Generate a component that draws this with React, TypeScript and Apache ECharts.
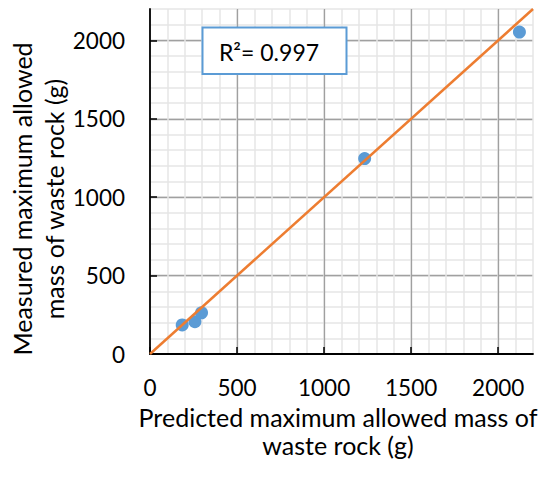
import React, { useEffect, useRef } from "react";
import * as echarts from "echarts";

const predicted = [185, 258, 296, 1233, 2122];
const measured = [185, 206, 263, 1246, 2053];
const fitLineX = [0, 2200];
const fitLineY = [0, 2200];
const xTitle = "Predicted maximum allowed mass of\nwaste rock (g)";
const yTitle = "Measured maximum allowed\nmass of waste rock (g)";
const r2Label = "R²= 0.997";

const FONT = "Lato, 'Open Sans', sans-serif";

export default function App() {
  const ref = useRef<HTMLDivElement>(null);
  useEffect(() => {
    document.body.style.margin = "0";
    if (!ref.current) return;
    const chart = echarts.init(ref.current, null, { renderer: "svg" });
    const minorAxis = (pos: string) => ({
      type: "value",
      position: pos,
      min: 0,
      max: 2200,
      interval: 100,
      axisLine: { show: false },
      axisTick: { show: false },
      axisLabel: { show: false },
      splitLine: { show: true, lineStyle: { color: "#e6e6e6", width: 1.5 } },
    });
    const majorAxis = (pos: string, margin: number) => ({
      type: "value",
      position: pos,
      min: 0,
      max: 2200,
      interval: 500,
      axisLine: { show: true, onZero: false, lineStyle: { color: "#000", width: 1.8 } },
      axisTick: { show: true, inside: true, length: 7, lineStyle: { color: "#000", width: 1.5 } },
      axisLabel: {
        show: true,
        margin,
        color: "#000",
        fontSize: 22.5,
        lineHeight: 20,
        fontFamily: FONT,
        showMaxLabel: false,
        formatter: (v: number) => (v % 500 === 0 ? String(v) : ""),
      },
      splitLine: { show: true, showMaxLine: false, showMinLine: false, lineStyle: { color: "#a0a0a0", width: 1.3 } },
    });
    chart.setOption({
      animation: false,
      backgroundColor: "#fff",
      grid: { left: 150, right: 17, top: 9, bottom: 127, containLabel: false },
      xAxis: [minorAxis("bottom"), majorAxis("bottom", 23)],
      yAxis: [minorAxis("left"), majorAxis("left", 25)],
      series: [
        {
          type: "scatter",
          xAxisIndex: 0,
          yAxisIndex: 0,
          symbolSize: 13,
          itemStyle: { color: "#5B9BD5", opacity: 1 },
          data: predicted.map((p, i) => [p, measured[i]]),
          z: 3,
        },
        {
          type: "line",
          xAxisIndex: 0,
          yAxisIndex: 0,
          symbol: "none",
          lineStyle: { color: "#ED7D31", width: 2.5 },
          data: fitLineX.map((x, i) => [x, fitLineY[i]]),
          z: 4,
        },
      ],
      graphic: [
        {
          type: "rect",
          shape: { x: 202.5, y: 27.5, width: 144, height: 46.5 },
          style: { fill: "#fff", stroke: "#5B9BD5", lineWidth: 2 },
          z: 10,
        },
        {
          type: "text",
          x: 269,
          y: 51.5,
          style: {
            text: r2Label,
            fontSize: 23,
            fontFamily: FONT,
            fill: "#000",
            align: "center",
            verticalAlign: "middle",
          },
          z: 11,
        },
        {
          type: "text",
          x: 338,
          y: 431,
          style: {
            text: xTitle,
            fontSize: 25,
            lineHeight: 28,
            fontFamily: FONT,
            fill: "#000",
            align: "center",
            verticalAlign: "middle",
          },
        },
        {
          type: "text",
          x: 38,
          y: 199,
          rotation: Math.PI / 2,
          style: {
            text: yTitle,
            fontSize: 25,
            lineHeight: 32,
            fontFamily: FONT,
            fill: "#000",
            align: "center",
            verticalAlign: "middle",
          },
        },
      ],
    });
    return () => chart.dispose();
  }, []);
  return <div ref={ref} style={{ width: 550, height: 481 }} />;
}
